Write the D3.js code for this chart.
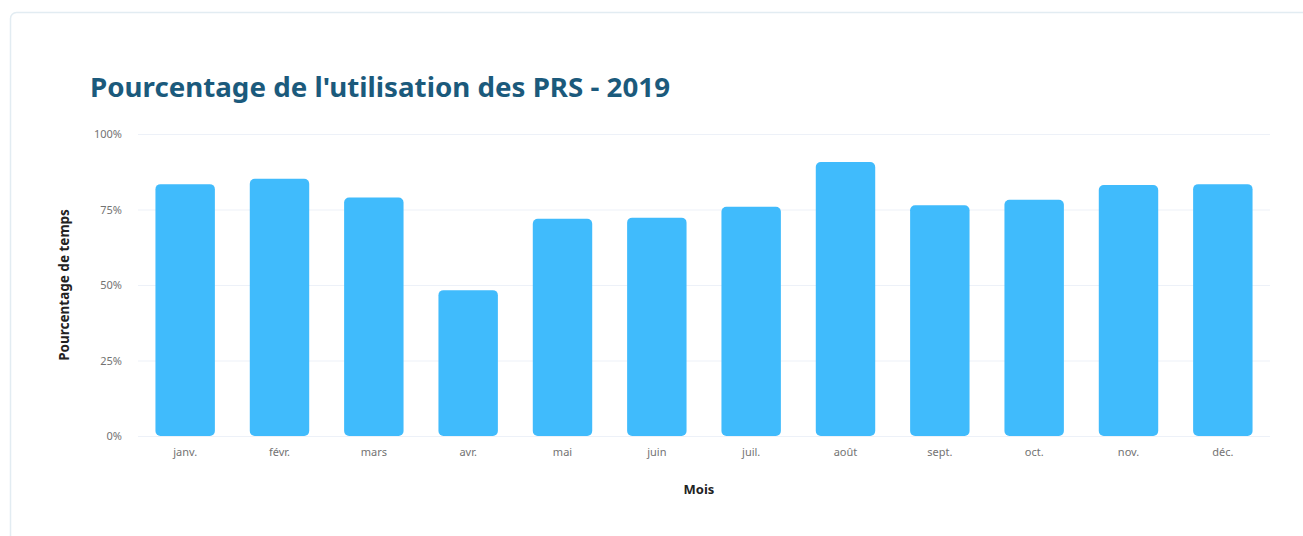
<!DOCTYPE html>
<html>
<head>
<meta charset="utf-8">
<script src="https://cdnjs.cloudflare.com/ajax/libs/d3/7.8.5/d3.min.js"></script>
<style>
  body { margin: 0; background: #fff; }
  svg { display: block; font-family: "Noto Sans", "Open Sans", sans-serif; }
</style>
</head>
<body>
<div id="chart"></div>
<script>
// Monthly PRS usage, 2019
const months = ["janv.", "févr.", "mars", "avr.", "mai", "juin", "juil.", "août", "sept.", "oct.", "nov.", "déc."];
const usage = [83.4, 85.2, 79.0, 48.3, 71.9, 72.3, 75.9, 90.7, 76.4, 78.2, 83.1, 83.4];
const yTicks = [0, 25, 50, 75, 100];

const width = 1303, height = 536;
const margin = { top: 134, right: 33, bottom: 100, left: 138 };
const innerW = width - margin.left - margin.right;
const innerH = height - margin.top - margin.bottom;

const svg = d3.select("#chart").append("svg")
  .attr("width", width)
  .attr("height", height);

// card outline
svg.append("rect")
  .attr("x", 10.5).attr("y", 12.5)
  .attr("width", 1400).attr("height", 600)
  .attr("rx", 6)
  .attr("fill", "#fff")
  .attr("stroke", "#e2ecf2")
  .attr("stroke-width", 1.5);

// title
svg.append("text")
  .attr("x", 90).attr("y", 97)
  .attr("font-size", 27)
  .attr("font-weight", "bold")
  .attr("fill", "#1b5a7c")
  .attr("textLength", 580)
  .attr("lengthAdjust", "spacingAndGlyphs")
  .text("Pourcentage de l'utilisation des PRS - 2019");

const g = svg.append("g")
  .attr("transform", `translate(${margin.left},${margin.top})`);

const x = d3.scaleBand()
  .domain(months)
  .range([0, innerW])
  .paddingInner(0.37)
  .paddingOuter(0.185);

const y = d3.scaleLinear()
  .domain([0, 100])
  .range([innerH, 0]);

// gridlines
g.selectAll(".grid")
  .data(yTicks)
  .enter().append("line")
  .attr("class", "grid")
  .attr("x1", 0).attr("x2", innerW)
  .attr("y1", d => y(d) + 0.5).attr("y2", d => y(d) + 0.5)
  .attr("stroke", "#edf1f8")
  .attr("stroke-width", 1);

// y axis labels
const yAxis = g.append("g")
  .call(d3.axisLeft(y).tickValues(yTicks).tickFormat(d => d + "%").tickSize(0).tickPadding(16));
yAxis.select(".domain").remove();
yAxis.selectAll("text")
  .attr("font-size", 11)
  .attr("fill", "#737373")
  .attr("font-family", "Noto Sans, sans-serif");

// bars
g.selectAll(".bar")
  .data(months)
  .enter().append("rect")
  .attr("class", "bar")
  .attr("x", d => x(d))
  .attr("y", (d, i) => y(usage[i]))
  .attr("width", x.bandwidth())
  .attr("height", (d, i) => innerH - y(usage[i]))
  .attr("rx", 5)
  .attr("fill", "#40bbfc");

// x axis labels
const xAxis = g.append("g")
  .attr("transform", `translate(0,${innerH})`)
  .call(d3.axisBottom(x).tickSize(0).tickPadding(12));
xAxis.select(".domain").remove();
xAxis.selectAll("text")
  .attr("font-size", 11)
  .attr("fill", "#737373")
  .attr("font-family", "Noto Sans, sans-serif");

// axis titles
svg.append("text")
  .attr("x", 699).attr("y", 494)
  .attr("text-anchor", "middle")
  .attr("font-size", 13)
  .attr("font-weight", "bold")
  .attr("fill", "#222")
  .text("Mois");

svg.append("text")
  .attr("transform", "rotate(-90)")
  .attr("x", -285).attr("y", 69)
  .attr("text-anchor", "middle")
  .attr("font-size", 13.5)
  .attr("font-weight", "bold")
  .attr("fill", "#222")
  .text("Pourcentage de temps");
</script>
</body>
</html>
